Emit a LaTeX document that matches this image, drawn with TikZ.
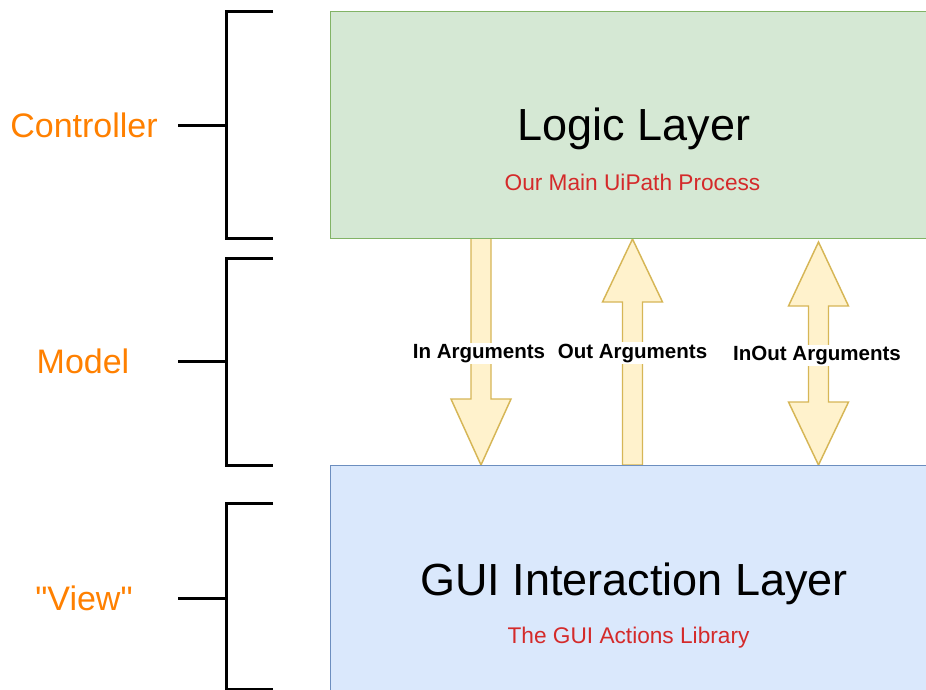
\documentclass[tikz,border=0pt]{standalone}
\usepackage{fontspec}
\setmainfont{Liberation Sans}
\newfontfamily\rolefont{Liberation Sans}[Ligatures=ResetAll]
\usetikzlibrary{backgrounds}
\definecolor{vertpale}{HTML}{D5E8D4}
\definecolor{vertbord}{HTML}{82B366}
\definecolor{bleupale}{HTML}{DAE8FC}
\definecolor{bleubord}{HTML}{6C8EBF}
\definecolor{jaunepale}{HTML}{FFF2CC}
\definecolor{jaunebord}{HTML}{D6B656}
\definecolor{corange}{HTML}{FF8000}
\definecolor{crouge}{HTML}{D42A2A}

\begin{document}
\begin{tikzpicture}[x=0.75pt, y=-0.75pt]
	\tikzstyle{layer}=[rectangle, anchor=north west, line width=1.1pt, inner sep=0pt, minimum width=455pt]
	\tikzstyle{title}=[anchor=base, inner sep=0pt, font=\fontsize{33.75}{40}\selectfont]
	\tikzstyle{subtitle}=[anchor=base, inner sep=0pt, text=crouge, font=\fontsize{17}{20}\selectfont]
	\tikzstyle{role}=[anchor=base, inner sep=0pt, text=corange, font=\rolefont\fontsize{25.5}{30}\selectfont]
	\tikzstyle{bracket}=[draw=black, line width=2.25pt]
	\tikzstyle{argarrow}=[fill=jaunepale, draw=jaunebord, line width=1.1pt, line join=miter]
	\tikzstyle{arglabel}=[anchor=base, fill=white, inner sep=1pt, font=\bfseries\fontsize{15.4}{18}\selectfont]

	\path[use as bounding box, clip] (0,0) rectangle (926,690);

	% LAYERS
	\node[layer, fill=vertpale, draw=vertbord, minimum height=170.25pt] (Logic) at (330,11) {};
	\node[layer, fill=bleupale, draw=bleubord, minimum height=190pt] (Gui) at (330,465) {};

	\node[title] (LogicT) at (634,140) {Logic Layer};
	\node[subtitle] (LogicS) at (632.5,190) {Our Main UiPath Process};
	\node[title] (GuiT) at (634,595) {GUI Interaction Layer};
	\node[subtitle] (GuiS) at (628.5,643) {The GUI Actions Library};

	% ROLES
	\node[role] (Ctrl) at (84,137) {Controller};
	\node[role] (Model) at (83,373) {Model};
	\node[role] (View) at (84,610) {"View"};

	\foreach \ytop/\ybot/\ymid in {11/238/125, 258/465/361, 503/689/598}
		\draw[bracket] (273,\ytop) -- (226,\ytop) -- (226,\ybot) -- (273,\ybot)
			(178,\ymid) -- (226,\ymid);

	% ARGUMENTS
	\begin{scope}[on background layer]
		\draw[argarrow] (471,238) -- (491,238) -- (491,399) -- (511,399) -- (481,465)
			-- (451,399) -- (471,399) -- cycle;
		\draw[argarrow] (622.5,465) -- (642.5,465) -- (642.5,302) -- (662.5,302) -- (632.5,239)
			-- (602.5,302) -- (622.5,302) -- cycle;
		\draw[argarrow] (818.5,242) -- (848.5,306) -- (828.5,306) -- (828.5,402) -- (848.5,402)
			-- (818.5,465) -- (788.5,402) -- (808.5,402) -- (808.5,306) -- (788.5,306) -- cycle;
	\end{scope}

	\node[arglabel] (InA) at (479,358) {In Arguments};
	\node[arglabel] (OutA) at (632.5,358) {Out Arguments};
	\node[arglabel] (InOutA) at (817,360.5) {InOut Arguments};
\end{tikzpicture}
\end{document}
